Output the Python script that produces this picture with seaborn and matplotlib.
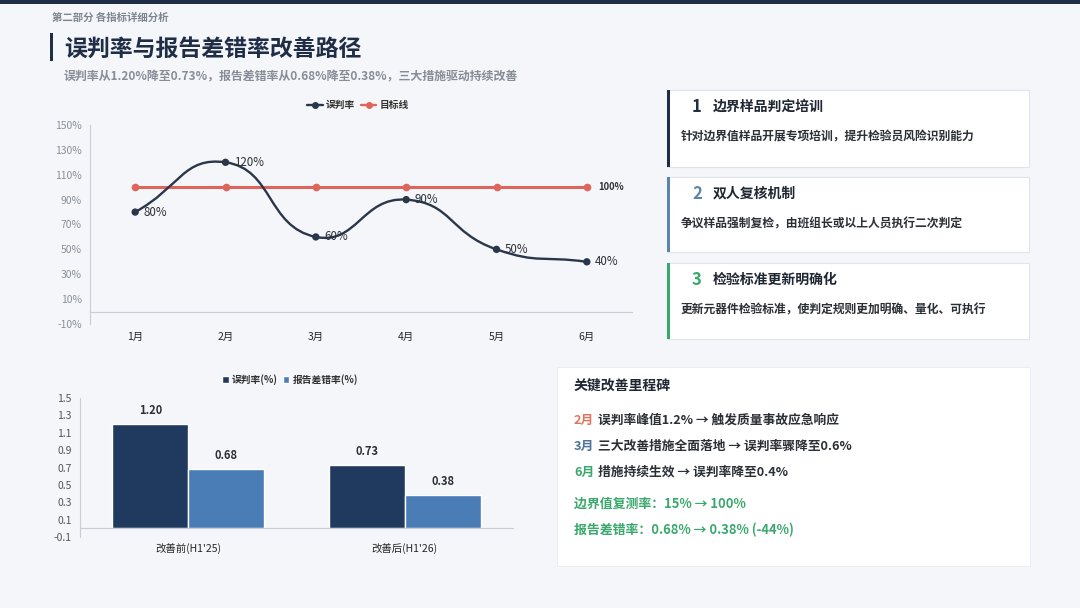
import numpy as np
import pandas as pd
import matplotlib
matplotlib.use("Agg")
import matplotlib.pyplot as plt
import seaborn as sns
from matplotlib.path import Path
from matplotlib.patches import PathPatch, Rectangle
from matplotlib.lines import Line2D
from matplotlib.patches import Patch

# ---------------- data ----------------
months = ["1月", "2月", "3月", "4月", "5月", "6月"]
misjudge_trend = [80, 120, 60, 90, 50, 40]
target_line = [100, 100, 100, 100, 100, 100]

bar_groups = ["改善前(H1'25)", "改善后(H1'26)"]
misjudge_rate = [1.20, 0.73]
report_error_rate = [0.68, 0.38]
bar_series = ["误判率(%)", "报告差错率(%)"]

line_yticks = [-10, 10, 30, 50, 70, 90, 110, 130, 150]
bar_yticks = [-0.1, 0.1, 0.3, 0.5, 0.7, 0.9, 1.1, 1.3, 1.5]

# ---------------- style ----------------
sns.set_theme(style="white")
plt.rcParams["font.family"] = ["Noto Sans CJK SC", "DejaVu Sans"]
plt.rcParams["axes.unicode_minus"] = False
plt.rcParams["xtick.labelsize"] = 7.5
plt.rcParams["ytick.labelsize"] = 7.5

BG = "#f4f6f9"
NAVY = "#1f2d46"
DARK_LINE = "#2a374b"
RED = "#df655c"
BAR_DARK = "#1f3a5e"
BAR_LIGHT = "#4a7db6"
STEEL = "#5a86ad"
GREEN = "#3aa86c"
GRAY_TXT = "#8a9099"
AXIS = "#c9ced6"

W, H = 1080, 608
fig = plt.figure(figsize=(W / 100, H / 100), dpi=100, facecolor=BG)


def fx(x):
    return x / W


def fy(y):
    return 1 - y / H


# top bar
fig.patches.append(Rectangle((0, fy(4)), 1, 4 / H, transform=fig.transFigure,
                             facecolor=NAVY, edgecolor="none"))

# header texts
fig.text(fx(52), fy(18), "第二部分 各指标详细分析", fontsize=7.5, color="#7d8590",
         fontweight="bold", va="center", ha="left")
fig.patches.append(Rectangle((fx(50), fy(61)), 3.2 / W, 28 / H, transform=fig.transFigure,
                             facecolor=NAVY, edgecolor="none"))
fig.text(fx(64), fy(49), "误判率与报告差错率改善路径", fontsize=16.5, color=NAVY,
         fontweight="bold", va="center", ha="left")
fig.text(fx(64), fy(76), "误判率从1.20%降至0.73%，报告差错率从0.68%降至0.38%，三大措施驱动持续改善",
         fontsize=8.6, color="#868d97", fontweight="bold", va="center", ha="left")

# ---------------- line chart ----------------
ax1 = fig.add_axes([fx(90), fy(324), (632 - 90) / W, (324 - 125) / H])
ax1.set_facecolor(BG)
xs = np.arange(len(months))

# smooth curve (cubic Bezier through the data points, echarts-like smoothing)
px_per_x = 90.3
px_per_y = 199 / 160.0
smooth = 0.5
pts = list(zip(xs.astype(float), misjudge_trend))
n = len(pts)
cps_before, cps_after = [], []
for i in range(n):
    x, y = pts[i]
    px_, py_ = pts[i - 1] if i > 0 else pts[i]
    nx_, ny_ = pts[i + 1] if i < n - 1 else pts[i]
    vx, vy = nx_ - px_, ny_ - py_
    d0 = np.hypot((x - px_) * px_per_x, (y - py_) * px_per_y)
    d1 = np.hypot((nx_ - x) * px_per_x, (ny_ - y) * px_per_y)
    tot = d0 + d1 if (d0 + d1) > 0 else 1
    r0, r1 = d0 / tot, d1 / tot
    cps_before.append((x - vx * smooth * r0, y - vy * smooth * r0))
    cps_after.append((x + vx * smooth * r1, y + vy * smooth * r1))
verts = [pts[0]]
codes = [Path.MOVETO]
for i in range(n - 1):
    verts += [cps_after[i], cps_before[i + 1], pts[i + 1]]
    codes += [Path.CURVE4] * 3
ax1.add_patch(PathPatch(Path(verts, codes), facecolor="none", edgecolor=DARK_LINE,
                        lw=1.7, zorder=3))

line_df = pd.DataFrame({"month": xs, "误判率": misjudge_trend, "目标线": target_line})
sns.lineplot(data=line_df, x="month", y="目标线", ax=ax1, color=RED, lw=2.2,
             marker="o", markersize=5.5, markeredgewidth=0, zorder=2)
sns.scatterplot(data=line_df, x="month", y="误判率", ax=ax1, color=DARK_LINE, s=28,
                edgecolor="none", zorder=4)

for x, v in zip(xs, misjudge_trend):
    ax1.annotate(f"{v}%", (x, v), xytext=(6, 0), textcoords="offset points",
                 fontsize=8.3, color="#2b2f36", va="center", ha="left", zorder=5)
ax1.annotate(f"{target_line[-1]}%", (xs[-1], target_line[-1]), xytext=(8, 0),
             textcoords="offset points", fontsize=6.8, color="#333", fontweight="bold",
             va="center", ha="left")

ax1.set_xlim(-0.5, len(months) - 0.5)
ax1.set_ylim(-10, 150)
ax1.tick_params(axis="x", which="major", length=0, pad=15)
ax1.tick_params(axis="x", which="minor", length=5, color=AXIS, width=0.8, direction="out")
ax1.tick_params(axis="y", length=4, color=AXIS, width=0.8, direction="out", pad=2)
ax1.set_yticks(line_yticks)
ax1.set_yticklabels([f"{v}%" for v in line_yticks], fontsize=7.5, color=GRAY_TXT)
ax1.set_xticks(xs)
ax1.set_xticklabels(months, fontsize=7.8, color="#333", fontweight="bold")
ax1.set_xticks(np.arange(-0.5, len(months), 1.0), minor=True)
ax1.set_xlabel("")
ax1.set_ylabel("")
for s in ["top", "right"]:
    ax1.spines[s].set_visible(False)
ax1.spines["left"].set_color(AXIS)
ax1.spines["bottom"].set_color(AXIS)
ax1.spines["left"].set_linewidth(0.8)
ax1.spines["bottom"].set_linewidth(0.8)
ax1.spines["bottom"].set_position(("data", 0))
if ax1.get_legend() is not None:
    ax1.get_legend().remove()

h1 = [Line2D([0], [0], color=DARK_LINE, lw=1.7, marker="o", markersize=4),
      Line2D([0], [0], color=RED, lw=1.7, marker="o", markersize=4)]
fig.legend(h1, ["误判率", "目标线"], loc="center", bbox_to_anchor=(fx(358), fy(105)),
           ncol=2, frameon=False, prop={"size": 7, "weight": "bold"},
           handlelength=1.6, handletextpad=0.3, columnspacing=0.6, labelcolor="#333")

# ---------------- bar chart ----------------
ax2 = fig.add_axes([fx(80), fy(537), (513 - 80) / W, (537 - 398) / H])
ax2.set_facecolor(BG)
bar_df = pd.DataFrame({
    "group": bar_groups * 2,
    "series": [bar_series[0]] * 2 + [bar_series[1]] * 2,
    "value": misjudge_rate + report_error_rate,
})
sns.barplot(data=bar_df, x="group", y="value", hue="series", order=bar_groups,
            hue_order=bar_series, palette=[BAR_DARK, BAR_LIGHT], width=0.7, gap=0,
            ax=ax2, saturation=1, legend=False)
for cont in ax2.containers:
    for rect in cont:
        h = rect.get_height()
        ax2.annotate(f"{h:.2f}", (rect.get_x() + rect.get_width() / 2, h),
                     xytext=(0, 5), textcoords="offset points", ha="center",
                     va="bottom", fontsize=8, fontweight="bold", color="#2b2f36")
ax2.set_ylim(-0.1, 1.5)
ax2.set_xlim(-0.5, 1.5)
ax2.tick_params(axis="x", which="major", length=0, pad=11)
ax2.tick_params(axis="x", which="minor", length=5, color=AXIS, width=0.8, direction="out")
ax2.tick_params(axis="y", length=4, color=AXIS, width=0.8, direction="out", pad=2)
ax2.set_yticks(bar_yticks)
ax2.set_yticklabels([f"{v:.1f}" for v in bar_yticks], fontsize=7.5, color="#555")
ax2.set_xticks([0, 1])
ax2.set_xticklabels(bar_groups, fontsize=8, color="#333", fontweight="medium")
ax2.set_xticks([-0.5, 0.5, 1.5], minor=True)
ax2.set_xlabel("")
ax2.set_ylabel("")
for s in ["top", "right"]:
    ax2.spines[s].set_visible(False)
for s in ["left", "bottom"]:
    ax2.spines[s].set_color(AXIS)
    ax2.spines[s].set_linewidth(0.8)
ax2.spines["bottom"].set_position(("data", 0))

h2 = [Patch(facecolor=BAR_DARK), Patch(facecolor=BAR_LIGHT)]
fig.legend(h2, bar_series, loc="center", bbox_to_anchor=(fx(290), fy(380)), ncol=2,
           frameon=False, prop={"size": 7, "weight": "bold"}, handlelength=0.7,
           handleheight=0.7, handletextpad=0.3, columnspacing=0.5, labelcolor="#333")

# ---------------- right-hand cards ----------------
cards = [
    ("1", "边界样品判定培训", "针对边界值样品开展专项培训，提升检验员风险识别能力", NAVY, 90, 167),
    ("2", "双人复核机制", "争议样品强制复检，由班组长或以上人员执行二次判定", STEEL, 177, 252),
    ("3", "检验标准更新明确化", "更新元器件检验标准，使判定规则更加明确、量化、可执行", GREEN, 263, 339),
]
for num, title, desc, col, top, bot in cards:
    fig.patches.append(Rectangle((fx(667), fy(bot)), (1029 - 667) / W, (bot - top) / H,
                                 transform=fig.transFigure, facecolor="white",
                                 edgecolor="#e1e5eb", lw=0.8))
    fig.patches.append(Rectangle((fx(667), fy(bot)), 3.2 / W, (bot - top) / H,
                                 transform=fig.transFigure, facecolor=col, edgecolor="none"))
    fig.text(fx(692), fy(top + 17), num, fontsize=12, fontweight="bold", color=col,
             va="center", ha="left")
    fig.text(fx(713), fy(top + 17), title, fontsize=10, fontweight="bold", color="#1f2733",
             va="center", ha="left")
    fig.text(fx(681), fy(top + 47), desc, fontsize=8.5, fontweight="bold", color="#2b2f36",
             va="center", ha="left")

# ---------------- milestone box ----------------
fig.patches.append(Rectangle((fx(557), fy(566)), (1030 - 557) / W, (566 - 367) / H,
                             transform=fig.transFigure, facecolor="white",
                             edgecolor="#e8ebef", lw=0.6))
fig.text(fx(574), fy(386), "关键改善里程碑", fontsize=10, fontweight="bold",
         color="#1f2733", va="center", ha="left")

renderer = fig.canvas.get_renderer()
milestones = [
    ("2月", "误判率峰值1.2% → 触发质量事故应急响应", "#e07563", 420),
    ("3月", "三大改善措施全面落地 → 误判率骤降至0.6%", "#4f7399", 446),
    ("6月", "措施持续生效 → 误判率降至0.4%", GREEN, 472),
]
for mon, text, col, y in milestones:
    t = fig.text(fx(574), fy(y), mon, fontsize=9.2, fontweight="bold", color=col,
                 va="center", ha="left")
    bb = t.get_window_extent(renderer)
    fig.text(bb.x1 / W + 4 / W, fy(y), text, fontsize=9.2, color="#2b2f36",
             fontweight="bold", va="center", ha="left")

fig.text(fx(574), fy(504), "边界值复测率：15% → 100%", fontsize=9.3, fontweight="bold",
         color=GREEN, va="center", ha="left")
fig.text(fx(574), fy(530), "报告差错率：0.68% → 0.38% (-44%)", fontsize=9.3,
         fontweight="bold", color=GREEN, va="center", ha="left")

fig.savefig("out.png", dpi=100, facecolor=BG)
